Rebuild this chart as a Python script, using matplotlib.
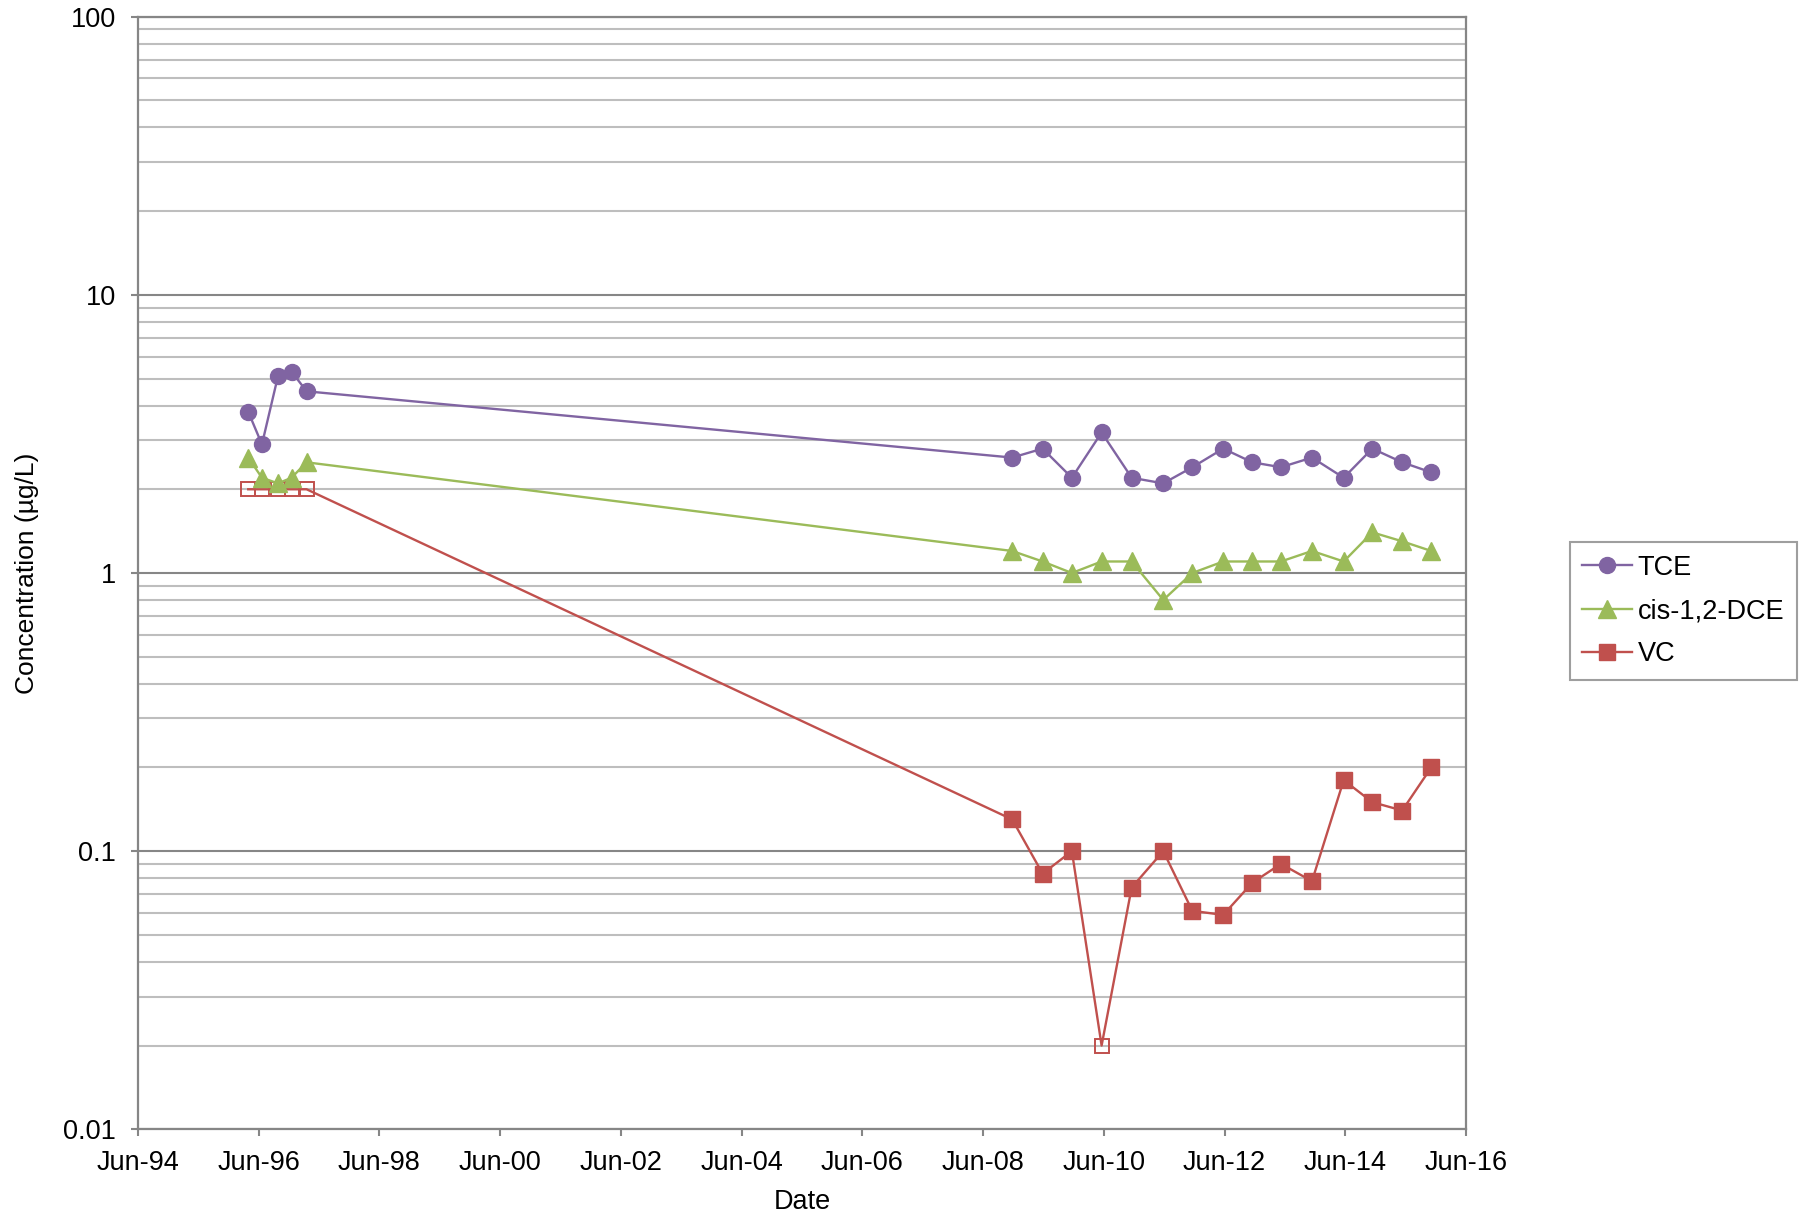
import matplotlib
matplotlib.use("Agg")
import matplotlib.pyplot as plt
import matplotlib.dates as mdates
import matplotlib.ticker as mticker
import numpy as np
import pandas as pd

plt.rcParams['font.family'] = ['Liberation Sans', 'DejaVu Sans']

# ---------------- data ----------------
dates = pd.to_datetime([
    "1996-03-29", "1996-06-20", "1996-09-25", "1996-12-16", "1997-03-17",
    "2008-11-24", "2009-05-27", "2009-11-20", "2010-05-19", "2010-11-17",
    "2011-05-27", "2011-11-19", "2012-05-24", "2012-11-16", "2013-05-08",
    "2013-11-12", "2014-05-23", "2014-11-12", "2015-05-12", "2015-11-04",
])
tce = [3.8, 2.9, 5.1, 5.3, 4.5,
       2.6, 2.8, 2.2, 3.2, 2.2, 2.1, 2.4, 2.8, 2.5, 2.4, 2.6, 2.2, 2.8, 2.5, 2.3]
dce = [2.6, 2.2, 2.1, 2.2, 2.5,
       1.2, 1.1, 1.0, 1.1, 1.1, 0.8, 1.0, 1.1, 1.1, 1.1, 1.2, 1.1, 1.4, 1.3, 1.2]
vc = [2.0, 2.0, 2.0, 2.0, 2.0,
      0.13, 0.083, 0.1, 0.02, 0.074, 0.1, 0.061, 0.059, 0.077, 0.09, 0.078,
      0.18, 0.15, 0.14, 0.2]
# non-detect flags for VC (plotted as hollow squares)
vc_nd = [True, True, True, True, True,
         False, False, False, True, False, False, False, False, False, False,
         False, False, False, False, False]

series_names = ["TCE", "cis-1,2-DCE", "VC"]
y_ticks = [0.01, 0.1, 1, 10, 100]
x_start, x_end = "1994-06-01", "2016-06-01"

# ---------------- figure ----------------
W, H = 1800, 1217
fig = plt.figure(figsize=(W / 100, H / 100), dpi=100)
ax = fig.add_axes([138 / W, 1 - 1129.3 / H, (1466 - 138) / W, (1129.3 - 16.7) / H])

purple = "#8064A2"
green = "#9BBB59"
red = "#C0504D"
axis_gray = "#868686"
minor_gray = "#BEBEBE"
lw = 1.7
fs = 19.5

ax.plot(dates, tce, color=purple, lw=lw, marker='o', ms=11.5, mec=purple,
        mfc=purple, label=series_names[0], zorder=5)
ax.plot(dates, dce, color=green, lw=lw, marker='^', ms=13.5, mec=green,
        mfc=green, label=series_names[1], zorder=4)
det_idx = [i for i, f in enumerate(vc_nd) if not f]
nd_idx = [i for i, f in enumerate(vc_nd) if f]
ax.plot(dates, vc, color=red, lw=lw, marker='s', ms=11, mec=red, mfc=red,
        markevery=det_idx, label=series_names[2], zorder=3)
ax.plot(dates[nd_idx], [vc[i] for i in nd_idx], linestyle='none', marker='s',
        ms=10.5, mec=red, mfc='none', mew=1.4, zorder=3)

ax.set_yscale('log')
ax.set_ylim(0.01, 100)
ax.set_xlim(pd.Timestamp(x_start), pd.Timestamp(x_end))

ax.yaxis.set_major_locator(mticker.FixedLocator(y_ticks))
ax.yaxis.set_major_formatter(mticker.FuncFormatter(lambda v, p: f"{v:g}"))
ax.yaxis.set_minor_locator(mticker.LogLocator(base=10, subs=np.arange(2, 10)))
ax.yaxis.set_minor_formatter(mticker.NullFormatter())

ax.xaxis.set_major_locator(mdates.MonthLocator(bymonth=6, bymonthday=1, interval=24))
ax.xaxis.set_major_formatter(mdates.DateFormatter('%b-%y'))

ax.grid(True, which='major', axis='y', color=axis_gray, lw=1.5, zorder=0)
ax.grid(True, which='minor', axis='y', color=minor_gray, lw=1.5, zorder=0)
ax.set_axisbelow(True)

for s in ax.spines.values():
    s.set_color(axis_gray)
    s.set_linewidth(1.6)

ax.tick_params(axis='both', which='major', direction='out', length=5, width=1.5,
               color=axis_gray, labelsize=fs, labelcolor='black')
ax.tick_params(axis='x', pad=10)
ax.tick_params(axis='y', pad=11)
ax.tick_params(axis='y', which='minor', length=0)

fig.text(27 / W, 1 - 573 / H, "Concentration (µg/L)", rotation=90,
         ha='center', va='center', fontsize=19)
fig.text(802 / W, 1 - 1209 / H, "Date", ha='center', va='baseline', fontsize=19.5)

leg = ax.legend(loc='center left', bbox_to_anchor=(1570 / W, 1 - 611 / H),
                bbox_transform=fig.transFigure, borderaxespad=0,
                fontsize=fs, frameon=True, fancybox=False, shadow=False,
                handlelength=1.85, handletextpad=0.2, labelspacing=0.64,
                borderpad=0.45)
leg.get_frame().set_edgecolor(axis_gray)
leg.get_frame().set_linewidth(1.5)

fig.savefig("out.png", dpi=100, facecolor='white')
